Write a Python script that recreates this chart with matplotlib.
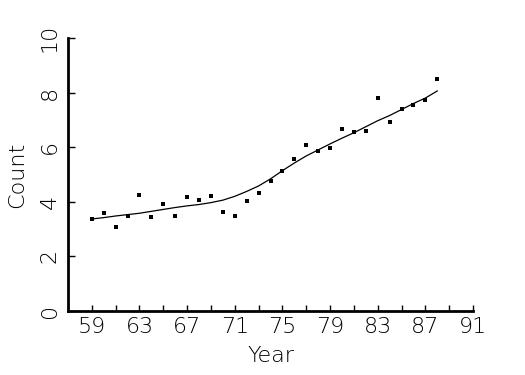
import matplotlib
matplotlib.use('Agg')
from matplotlib import pyplot as plt

# data
years = list(range(59, 89))
counts = [3.36, 3.58, 3.07, 3.47, 4.26, 3.43, 3.91, 3.48, 4.18, 4.05,
          4.21, 3.62, 3.49, 4.03, 4.31, 4.77, 5.13, 5.56, 6.07, 5.87,
          5.96, 6.67, 6.56, 6.58, 7.79, 6.91, 7.40, 7.55, 7.72, 8.49]
# smoothed fit line
smooth = [3.37, 3.42, 3.48, 3.53, 3.58, 3.65, 3.72, 3.79, 3.85, 3.90,
          3.97, 4.06, 4.20, 4.38, 4.58, 4.84, 5.14, 5.42, 5.68, 5.90,
          6.12, 6.33, 6.53, 6.75, 6.97, 7.16, 7.38, 7.60, 7.80, 8.06]
xticks = list(range(59, 92, 4))
yticks = [0, 2, 4, 6, 8, 10]

plt.rcParams['font.family'] = ['DejaVu Sans']
fig = plt.figure(figsize=(5.25, 3.75), dpi=100)
ax = fig.add_axes([0.1295, 0.1707, 0.901 - 0.1295, 0.8987 - 0.1707])

ax.plot(years, counts, 's', color='black', markersize=2.2, markeredgewidth=0)
ax.plot(years, smooth, '-', color='black', lw=0.9)

ax.set_xlim(57, 91)
ax.set_ylim(0, 10)
ax.set_xticks(xticks)
ax.set_xticks(list(range(59, 92, 2)), minor=True)
ax.set_yticks(yticks)

for s in ['top', 'right']:
    ax.spines[s].set_visible(False)
for s in ['left', 'bottom']:
    ax.spines[s].set_linewidth(2)

ax.tick_params(axis='x', which='both', direction='in', length=4, width=1, pad=4, labelsize=16)
ax.tick_params(axis='y', direction='in', length=5, width=1, pad=6, labelsize=16)
for lab in ax.get_yticklabels():
    lab.set_rotation(90)
    lab.set_va('center')

ax.set_xlabel('Year', fontsize=16, fontweight='light', labelpad=7)
ax.set_ylabel('Count', fontsize=16, fontweight='light', labelpad=9)
for lab in ax.get_xticklabels() + ax.get_yticklabels():
    lab.set_fontweight('light')

fig.savefig('out.png', dpi=100)
